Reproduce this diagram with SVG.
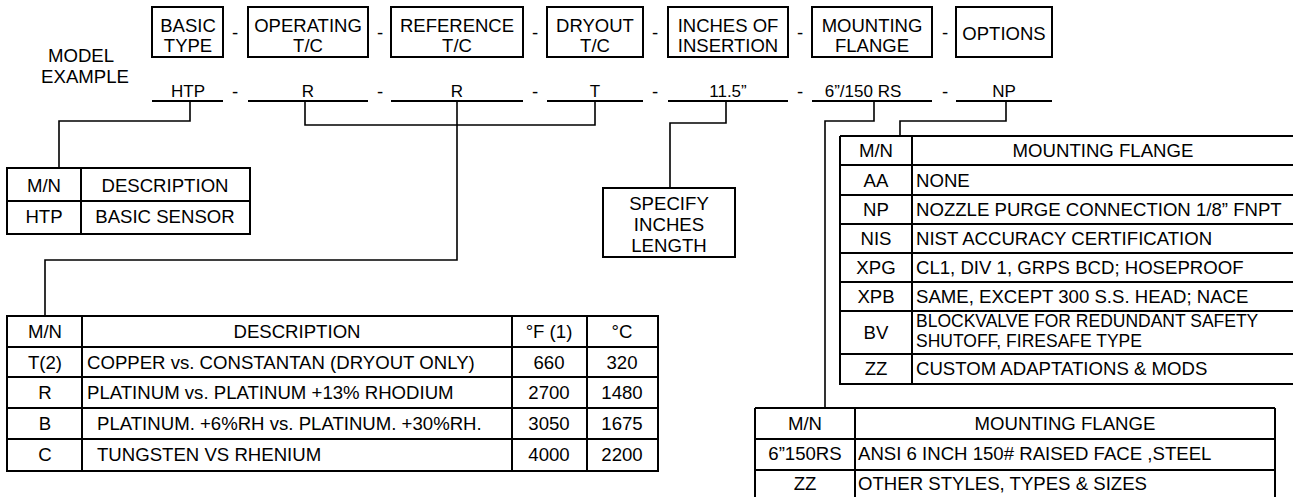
<svg xmlns="http://www.w3.org/2000/svg" width="1293" height="497" viewBox="0 0 1293 497">
<style>
text{font-family:"Liberation Sans",Arial,sans-serif;fill:#000;font-size:18.6px}
.c{text-anchor:middle}
.box{fill:none;stroke:#000;stroke-width:2}
.ln{fill:none;stroke:#000;stroke-width:2}
.con{fill:none;stroke:#000;stroke-width:1.6}
.hb{font-size:18.5px}
.v{font-size:17px}
.sm{font-size:17.5px}
</style>
<rect width="1293" height="497" fill="#fff"/>
<g id="model-label">
<text class="c" x="81" y="62" font-size="17.5">MODEL</text>
<text class="c" x="85" y="83" font-size="17.5">EXAMPLE</text>
</g>
<g id="hdr-basic"><rect class="box" x="152" y="7" width="71" height="50"/><text class="c hb" x="188" y="32">BASIC</text><text class="c hb" x="188" y="52">TYPE</text></g>
<g id="hdr-operating"><rect class="box" x="248" y="7" width="120" height="50"/><text class="c hb" x="308" y="32">OPERATING</text><text class="c hb" x="308" y="52">T/C</text></g>
<g id="hdr-reference"><rect class="box" x="391" y="7" width="132" height="50"/><text class="c hb" x="457" y="32">REFERENCE</text><text class="c hb" x="457" y="52">T/C</text></g>
<g id="hdr-dryout"><rect class="box" x="547" y="7" width="96" height="50"/><text class="c hb" x="595" y="32">DRYOUT</text><text class="c hb" x="595" y="52">T/C</text></g>
<g id="hdr-inches"><rect class="box" x="668" y="7" width="120" height="50"/><text class="c hb" x="728" y="32">INCHES OF</text><text class="c hb" x="728" y="52">INSERTION</text></g>
<g id="hdr-mounting"><rect class="box" x="812" y="7" width="120" height="50"/><text class="c hb" x="872" y="32">MOUNTING</text><text class="c hb" x="872" y="52">FLANGE</text></g>
<g id="hdr-options"><rect class="box" x="956" y="7" width="96" height="50"/><text class="c hb" x="1004" y="40">OPTIONS</text></g>
<g id="dashes">
<text class="c" x="235" y="39">-</text><text class="c" x="380" y="39">-</text><text class="c" x="535" y="39">-</text><text class="c" x="655" y="39">-</text><text class="c" x="800" y="39">-</text><text class="c" x="945" y="39">-</text>
<text class="c" x="235" y="98">-</text><text class="c" x="380" y="98">-</text><text class="c" x="535" y="98">-</text><text class="c" x="655" y="98">-</text><text class="c" x="800" y="98">-</text><text class="c" x="945" y="98">-</text>
</g>
<g id="example-values">
<path class="ln" d="M152,101H223M248,101H368M391,101H523M547,101H643M668,101H788M812,101H932M956,101H1052"/>
<text class="c v" x="188" y="97">HTP</text>
<text class="c v" x="308" y="97">R</text>
<text class="c v" x="457" y="97">R</text>
<text class="c v" x="595" y="97">T</text>
<text class="c v" x="728" y="97">11.5”</text>
<text class="c v" x="863" y="97" font-size="17.5">6”/150 RS</text>
<text class="c v" x="1004" y="97">NP</text>
</g>
<g id="connectors">
<path class="con" d="M190,101V121H59V168"/>
<path class="con" d="M305,101V125H595V101"/>
<path class="con" d="M457,101V260H45V316"/>
<path class="con" d="M726,101V123H670V188"/>
<path class="con" d="M874,101V121H825V408"/>
<path class="con" d="M1006,101V121H900V136"/>
</g>
<g id="table-basic">
<rect class="box" x="7" y="168" width="243" height="66"/>
<path class="ln" d="M81,168V234M7,201H250"/>
<text class="c" x="44" y="192" font-size="20">M/N</text>
<text class="c" x="165" y="192" font-size="21">DESCRIPTION</text>
<text class="c" x="44" y="223" font-size="18">HTP</text>
<text class="c" x="165" y="223" font-size="18">BASIC SENSOR</text>
</g>
<g id="specify-box">
<rect class="box" x="603" y="188" width="132" height="69"/>
<text class="c" x="669" y="210" font-size="18">SPECIFY</text>
<text class="c" x="669" y="231" font-size="18">INCHES</text>
<text class="c" x="669" y="252" font-size="18">LENGTH</text>
</g>
<g id="table-tc">
<rect class="box" x="7" y="316" width="651" height="155"/>
<path class="ln" d="M82,316V471M512,316V471M587,316V471M7,347H658M7,377H658M7,408H658M7,439H658"/>
<text class="c" x="45" y="338">M/N</text><text class="c" x="297" y="338">DESCRIPTION</text><text class="c" x="549" y="338">°F (1)</text><text class="c" x="622" y="338">°C</text>
<text class="c" x="45" y="369">T(2)</text><text x="87" y="369">COPPER vs. CONSTANTAN (DRYOUT ONLY)</text><text class="c" x="549" y="369">660</text><text class="c" x="622" y="369">320</text>
<text class="c" x="45" y="399">R</text><text x="87" y="399">PLATINUM vs. PLATINUM +13% RHODIUM</text><text class="c" x="549" y="399">2700</text><text class="c" x="622" y="399">1480</text>
<text class="c" x="45" y="430">B</text><text x="97" y="430">PLATINUM. +6%RH vs. PLATINUM. +30%RH.</text><text class="c" x="549" y="430">3050</text><text class="c" x="622" y="430">1675</text>
<text class="c" x="45" y="461">C</text><text x="97" y="461">TUNGSTEN VS RHENIUM</text><text class="c" x="549" y="461">4000</text><text class="c" x="622" y="461">2200</text>
</g>
<g id="table-options">
<path class="ln" d="M840,136V385M912,136V385M840,136H1300M840,165H1300M840,195H1300M840,224H1300M840,253H1300M840,282H1300M840,311H1300M840,354H1300M840,384H1300"/>
<text class="c" x="876" y="157">M/N</text><text class="c" x="1103" y="157">MOUNTING FLANGE</text>
<text class="c" x="876" y="187">AA</text><text x="916" y="187">NONE</text>
<text class="c" x="876" y="216">NP</text><text x="916" y="216">NOZZLE PURGE CONNECTION 1/8” FNPT</text>
<text class="c" x="876" y="245">NIS</text><text x="916" y="245">NIST ACCURACY CERTIFICATION</text>
<text class="c" x="876" y="274">XPG</text><text x="916" y="274">CL1, DIV 1, GRPS BCD; HOSEPROOF</text>
<text class="c" x="876" y="303">XPB</text><text x="916" y="303">SAME, EXCEPT 300 S.S. HEAD; NACE</text>
<text class="c" x="876" y="339">BV</text><text class="sm" x="916" y="327">BLOCKVALVE FOR REDUNDANT SAFETY</text><text class="sm" x="916" y="347">SHUTOFF, FIRESAFE TYPE</text>
<text class="c" x="876" y="375">ZZ</text><text x="916" y="375">CUSTOM ADAPTATIONS &amp; MODS</text>
</g>
<g id="table-flange">
<path class="ln" d="M755,408V500M855,408V500M1275,408V500M755,408H1275M755,439H1275M755,470H1275"/>
<text class="c" x="805" y="430">M/N</text><text class="c" x="1065" y="430">MOUNTING FLANGE</text>
<text class="c" x="805" y="460">6”150RS</text><text x="858" y="460">ANSI 6 INCH 150# RAISED FACE ,STEEL</text>
<text class="c" x="805" y="490">ZZ</text><text x="858" y="490">OTHER STYLES, TYPES &amp; SIZES</text>
</g>
</svg>
